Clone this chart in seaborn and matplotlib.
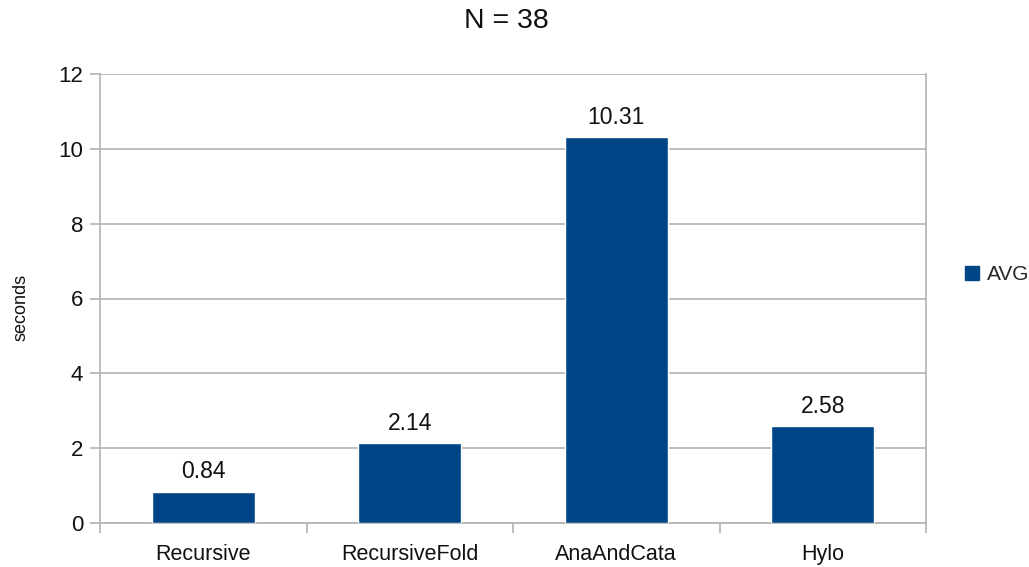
import matplotlib
matplotlib.use("Agg")
import matplotlib.pyplot as plt
from matplotlib.ticker import FixedLocator
from matplotlib.patches import Patch
import pandas as pd
import seaborn as sns

categories = ["Recursive", "RecursiveFold", "AnaAndCata", "Hylo"]
avg_seconds = [0.84, 2.14, 10.31, 2.58]
y_ticks = [0, 2, 4, 6, 8, 10, 12]

sns.set_theme(style="white")
plt.rcParams["font.family"] = ["Liberation Sans", "DejaVu Sans"]

bar_color = "#004586"
grid_color = "#b3b3b3"
text_color = "#111111"

df = pd.DataFrame({"method": categories, "seconds": avg_seconds})

fig = plt.figure(figsize=(10.29, 5.67), dpi=100)
ax = fig.add_axes([100 / 1029, 1 - 523 / 567, 826 / 1029, (523 - 74) / 567])

sns.barplot(data=df, x="method", y="seconds", color=bar_color, width=0.5,
            saturation=1, ax=ax, zorder=3)

ax.set_xlim(-0.5, len(categories) - 0.5)
ax.set_ylim(0, 12)
ax.set_yticks(y_ticks)
ax.yaxis.grid(True, color=grid_color, linewidth=1.2, zorder=0)
ax.set_axisbelow(True)

ax.spines["top"].set_visible(False)
for side in ["left", "bottom", "right"]:
    ax.spines[side].set_color(grid_color)
    ax.spines[side].set_linewidth(1.2)

# category separators as ticks below the baseline
ax.xaxis.set_minor_locator(FixedLocator([i - 0.5 for i in range(len(categories) + 1)]))
ax.tick_params(axis="x", which="major", length=0, pad=15, labelsize=15.5, colors=text_color)
ax.tick_params(axis="x", which="minor", length=7.2, width=1.2, color=grid_color, bottom=True)
ax.tick_params(axis="y", which="major", length=7.2, width=1.2, color=grid_color, left=True,
               labelsize=16, labelcolor=text_color, pad=5)

ax.set_xlabel("")
ax.set_ylabel("seconds", fontsize=13, color=text_color)
ax.yaxis.set_label_coords(-0.0848, 0.48)

for i, v in enumerate(avg_seconds):
    ax.annotate(f"{v:.2f}", xy=(i, v), xytext=(0, 9.5), textcoords="offset points",
                ha="center", va="baseline", fontsize=16.5, color=text_color)

fig.text(0.492, 1 - 28 / 567, "N = 38", ha="center", va="baseline",
         fontsize=20.5, color=text_color)

handles = [Patch(facecolor=bar_color, edgecolor=bar_color, label="AVG")]
fig.legend(handles=handles, loc="center left", bbox_to_anchor=(0.920, 0.515),
           frameon=False, fontsize=15, handlelength=0.67, handleheight=0.67,
           handletextpad=0.38)

fig.savefig("out.png", dpi=100)
